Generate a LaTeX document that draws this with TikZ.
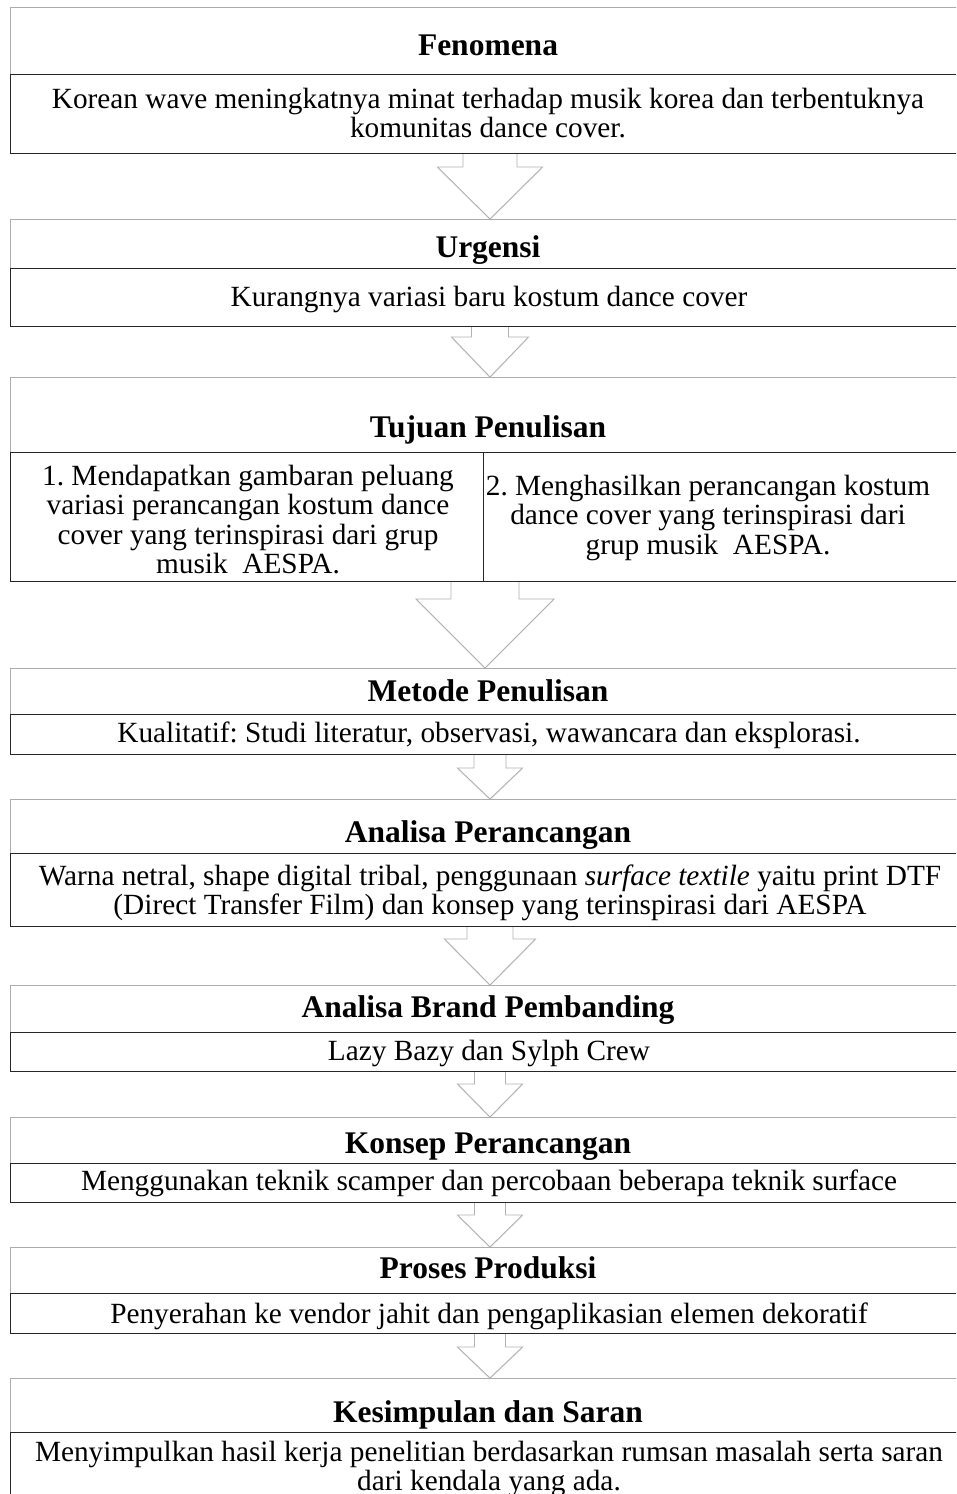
\documentclass[tikz,border=0pt]{standalone}
\usepackage{fontspec}
\setmainfont{Liberation Serif}
\frenchspacing
\usetikzlibrary{calc,shadows}
\newcommand\ls{\rule[-8pt]{0pt}{28.5pt}}
\tikzset{
  obox/.style={draw=gray!65, line width=0.9pt, rectangle, inner sep=0, anchor=north west, minimum width=958pt},
  ibox/.style={draw=black!85, line width=1.3pt, rectangle, inner sep=0, anchor=north west, minimum width=958pt},
  cell/.style={draw=black!85, line width=1.3pt, rectangle, inner sep=0, anchor=north west},
  ttl/.style={font=\fontsize{31.5}{34}\selectfont\bfseries, inner sep=0, anchor=base},
  body/.style={font=\fontsize{29.3}{29.5}\selectfont, inner sep=0, align=center},
  blockarrow/.style={draw=gray!60, fill=white, line width=0.9pt, line join=miter,
    drop shadow={shadow xshift=0pt, shadow yshift=-1.5pt, opacity=0.15}}
}
\newcommand\flowarrow[6]{%
  \filldraw[blockarrow] let \p1=(#1.south), \p2=(#2.north) in
   ({#3-#4},\y1) -- ({#3-#4},#6) -- ({#3-#5},#6) -- (#3,\y2) -- ({#3+#5},#6) -- ({#3+#4},#6) -- ({#3+#4},\y1);}
\begin{document}
\begin{tikzpicture}[x=1pt,y=-1pt]
\path[use as bounding box] (0,0) rectangle (956,1494);
\clip (0,0) rectangle (956,1494);
% outer boxes (positions only, drawn later)
\path
  (10,7)    node[minimum width=958pt, minimum height=146pt, inner sep=0, anchor=north west] (ob1) {}
  (10,219)  node[minimum width=958pt, minimum height=107pt, inner sep=0, anchor=north west] (ob2) {}
  (10,377)  node[minimum width=958pt, minimum height=204pt, inner sep=0, anchor=north west] (ob3) {}
  (10,668)  node[minimum width=958pt, minimum height=86pt, inner sep=0, anchor=north west] (ob4) {}
  (10,799)  node[minimum width=958pt, minimum height=127pt, inner sep=0, anchor=north west] (ob5) {}
  (10,985)  node[minimum width=958pt, minimum height=86pt, inner sep=0, anchor=north west] (ob6) {}
  (10,1117) node[minimum width=958pt, minimum height=85pt, inner sep=0, anchor=north west] (ob7) {}
  (10,1247) node[minimum width=958pt, minimum height=86pt, inner sep=0, anchor=north west] (ob8) {}
  (10,1378) node[minimum width=958pt, minimum height=125pt, inner sep=0, anchor=north west] (ob9) {};
% arrows
\flowarrow{ob1}{ob2}{490}{27}{52.5}{167}
\flowarrow{ob2}{ob3}{490}{18.5}{38.5}{337}
\flowarrow{ob3}{ob4}{485}{34}{69}{599}
\flowarrow{ob4}{ob5}{490}{16}{32.5}{768}
\flowarrow{ob5}{ob6}{490}{23}{45.5}{939}
\flowarrow{ob6}{ob7}{490}{15.5}{32.5}{1084}
\flowarrow{ob7}{ob8}{490}{15.5}{32.5}{1215}
\flowarrow{ob8}{ob9}{490}{15.5}{32.5}{1347}
% boxes
\node[obox, minimum height=146pt] (b1) at (10,7) {};
\node[ibox, minimum height=79pt] (i1) at (10,74) {};
\node[obox, minimum height=107pt] (b2) at (10,219) {};
\node[ibox, minimum height=58pt] (i2) at (10,268) {};
\node[obox, minimum height=204pt] (b3) at (10,377) {};
\node[cell, minimum width=473pt, minimum height=129pt] (i3a) at (10,452) {};
\node[cell, minimum width=485pt, minimum height=129pt] (i3b) at (483,452) {};
\node[obox, minimum height=86pt] (b4) at (10,668) {};
\node[ibox, minimum height=40pt] (i4) at (10,714) {};
\node[obox, minimum height=127pt] (b5) at (10,799) {};
\node[ibox, minimum height=73pt] (i5) at (10,853) {};
\node[obox, minimum height=86pt] (b6) at (10,985) {};
\node[ibox, minimum height=39pt] (i6) at (10,1032) {};
\node[obox, minimum height=85pt] (b7) at (10,1117) {};
\node[ibox, minimum height=39pt] (i7) at (10,1163) {};
\node[obox, minimum height=86pt] (b8) at (10,1247) {};
\node[ibox, minimum height=40pt] (i8) at (10,1293) {};
\node[obox, minimum height=125pt] (b9) at (10,1378) {};
\node[ibox, minimum height=72pt] (i9) at (10,1432) {};
% titles
\node[ttl] (t1) at (488,55) {Fenomena};
\node[ttl] (t2) at (488,257) {Urgensi};
\node[ttl] (t3) at (488,437) {Tujuan Penulisan};
\node[ttl] (t4) at (488,701) {Metode Penulisan};
\node[ttl] (t5) at (488,842) {Analisa Perancangan};
\node[ttl] (t6) at (488,1017) {Analisa Brand Pembanding};
\node[ttl] (t7) at (488,1153) {Konsep Perancangan};
\node[ttl] (t8) at (488,1278) {Proses Produksi};
\node[ttl] (t9) at (488,1422) {Kesimpulan dan Saran};
% contents
\node[body] (c1) at (488,116.5) {\ls Korean wave meningkatnya minat terhadap musik korea dan terbentuknya\\\ls komunitas dance cover.};
\node[body, anchor=base] (c2) at (489,306) {Kurangnya variasi baru kostum dance cover};
\node[body] (c3a) at (248,523) {\ls 1. Mendapatkan gambaran peluang\\\ls variasi perancangan kostum dance\\\ls cover yang terinspirasi dari grup\\\ls musik\ \ AESPA.};
\node[body] (c3b) at (708,518.25) {\ls 2. Menghasilkan perancangan kostum\\\ls dance cover yang terinspirasi dari\\\ls grup musik\ \ AESPA.};
\node[body, anchor=base] (c4) at (489,742) {Kualitatif: Studi literatur, observasi, wawancara dan eksplorasi.};
\node[body] (c5) at (490,893.5) {\ls Warna netral, shape digital tribal, penggunaan \textit{surface textile} yaitu print DTF\\\ls (Direct Transfer Film) dan konsep yang terinspirasi dari AESPA};
\node[body, anchor=base] (c6) at (489,1060) {Lazy Bazy dan Sylph Crew};
\node[body, anchor=base] (c7) at (489,1190) {Menggunakan teknik scamper dan percobaan beberapa teknik surface};
\node[body, anchor=base] (c8) at (489,1323) {Penyerahan ke vendor jahit dan pengaplikasian elemen dekoratif};
\node[body] (c9) at (489,1469.5) {\ls Menyimpulkan hasil kerja penelitian berdasarkan rumsan masalah serta saran\\\ls dari kendala yang ada.};
\end{tikzpicture}
\end{document}
